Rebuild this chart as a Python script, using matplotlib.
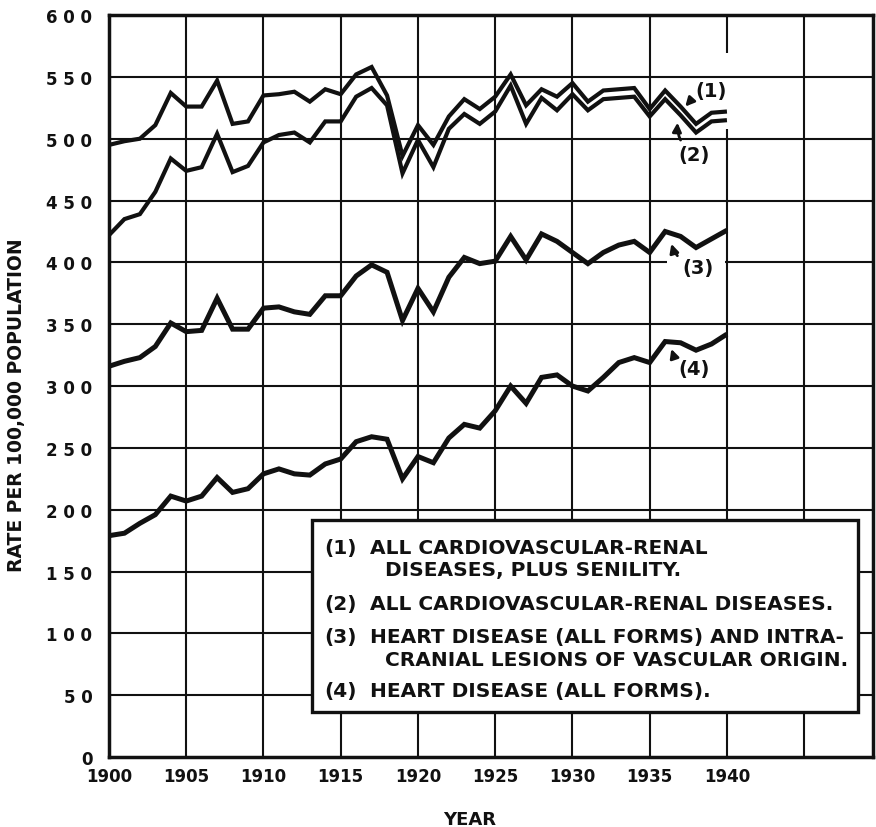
import matplotlib
matplotlib.use("Agg")
import matplotlib.pyplot as plt
from matplotlib.patches import Rectangle

INK = "#111111"

years = list(range(1900, 1941))

# (1) all cardiovascular-renal diseases, plus senility
cvr_senility = [495, 498, 500, 511, 537, 526, 526, 547, 512, 514,
                535, 536, 538, 530, 540, 536, 552, 558, 535, 486,
                511, 495, 518, 532, 524, 534, 552, 527, 540, 534,
                545, 530, 539, 540, 541, 524, 539, 526, 512, 521,
                522]
# (2) all cardiovascular-renal diseases
cvr = [422, 435, 439, 457, 484, 474, 477, 504, 473, 478,
       497, 503, 505, 497, 514, 514, 534, 541, 527, 472,
       499, 477, 508, 520, 512, 522, 543, 512, 533, 523,
       536, 523, 532, 533, 534, 518, 532, 519, 505, 514,
       515]
# (3) heart disease and intracranial lesions of vascular origin
heart_icl = [316, 320, 323, 332, 351, 344, 345, 371, 346, 346,
             363, 364, 360, 358, 373, 373, 389, 398, 392, 353,
             379, 360, 388, 404, 399, 401, 421, 402, 423, 417,
             408, 399, 408, 414, 417, 408, 425, 421, 412, 419,
             426]
# (4) heart disease (all forms)
heart = [179, 181, 189, 196, 211, 207, 211, 226, 214, 217,
         229, 233, 229, 228, 237, 241, 255, 259, 257, 225,
         243, 238, 258, 269, 266, 280, 300, 286, 307, 309,
         300, 296, 307, 319, 323, 319, 336, 335, 329, 334,
         342]

x_ticks = [1900, 1905, 1910, 1915, 1920, 1925, 1930, 1935, 1940]
y_ticks = list(range(0, 601, 50))
y_tick_labels = [" ".join(str(v)) for v in y_ticks]

legend_lines = [
    ("(1)", "ALL CARDIOVASCULAR-RENAL", 0.283),
    ("", "DISEASES, PLUS SENILITY.", 0.253),
    ("(2)", "ALL CARDIOVASCULAR-RENAL DISEASES.", 0.2075),
    ("(3)", "HEART DISEASE (ALL FORMS) AND INTRA-", 0.163),
    ("", "CRANIAL LESIONS OF VASCULAR ORIGIN.", 0.132),
    ("(4)", "HEART DISEASE (ALL FORMS).", 0.089),
]

plt.rcParams["font.family"] = "DejaVu Sans"

fig = plt.figure(figsize=(8.76, 8.28), dpi=100)
fig.patch.set_facecolor("white")
ax = fig.add_axes([0.1244, 0.0845, 0.8721, 0.8961])
ax.set_xlim(1900, 1949.45)
ax.set_ylim(0, 600)

# hand drawn grid, with the two gaps left for the curve labels
grid_kw = dict(color=INK, lw=1.5, zorder=1)
for yr in range(1905, 1950, 5):
    if yr == 1940:
        ax.vlines(yr, 0, 508, **grid_kw)
        ax.vlines(yr, 569, 600, **grid_kw)
    else:
        ax.axvline(yr, **grid_kw)
for v in range(50, 600, 50):
    if v == 400:
        ax.hlines(v, 1900, 1936.1, **grid_kw)
        ax.hlines(v, 1939.9, 1949.45, **grid_kw)
    else:
        ax.axhline(v, **grid_kw)

line_kw = dict(color=INK, solid_joinstyle="miter", solid_capstyle="butt", zorder=3)
ax.plot(years, cvr_senility, lw=3.0, **line_kw)
ax.plot(years, cvr, lw=3.0, **line_kw)
ax.plot(years, heart_icl, lw=3.6, **line_kw)
ax.plot(years, heart, lw=3.6, **line_kw)

arrow = dict(arrowstyle="-|>", color=INK, lw=2.0, mutation_scale=13,
             shrinkA=2, shrinkB=0)
lab_kw = dict(fontsize=14, fontweight="bold", color=INK, ha="center",
              va="center", zorder=5)
ax.annotate("(1)", xy=(1937.3, 526), xytext=(1939.0, 539),
            arrowprops=dict(connectionstyle="arc3,rad=0.15", **arrow), **lab_kw)
ax.annotate("(2)", xy=(1936.8, 513), xytext=(1937.9, 487),
            arrowprops=dict(connectionstyle="arc3,rad=-0.3", **arrow), **lab_kw)
ax.annotate("(3)", xy=(1936.4, 415), xytext=(1938.1, 396),
            arrowprops=dict(connectionstyle="arc3,rad=-0.3", **arrow), **lab_kw)
ax.annotate("(4)", xy=(1936.4, 330), xytext=(1937.9, 314),
            arrowprops=dict(connectionstyle="arc3,rad=-0.3", **arrow), **lab_kw)

# key box
ax.add_patch(Rectangle((0.266, 0.0606), 0.714, 0.2584, transform=ax.transAxes,
                       facecolor="white", edgecolor=INK, lw=2.4, zorder=4))
key_kw = dict(transform=ax.transAxes, fontsize=14.5, fontweight="bold",
              color=INK, va="center", zorder=5)
for num, text, yy in legend_lines:
    if num:
        ax.text(0.282, yy, num, **key_kw)
        ax.text(0.342, yy, text, **key_kw)
    else:
        ax.text(0.361, yy, text, **key_kw)

ax.set_xticks(x_ticks)
ax.set_xticklabels([str(x) for x in x_ticks], fontsize=12, fontweight="bold")
ax.set_yticks(y_ticks)
ax.set_yticklabels(y_tick_labels, fontsize=12, fontweight="bold")
ax.tick_params(axis="x", length=0, pad=7, colors=INK)
ax.tick_params(axis="y", length=0, pad=12, colors=INK)
for spine in ax.spines.values():
    spine.set_linewidth(2.5)
    spine.set_color(INK)
    spine.set_zorder(6)

fig.text(0.0194, 0.511, "RATE PER 100,000 POPULATION", rotation=90,
         fontsize=13.5, fontweight="bold", color=INK, ha="center", va="center")
fig.text(0.5365, 0.01, "YEAR", fontsize=13, fontweight="bold", color=INK,
         ha="center", va="center")

fig.savefig("out.png", dpi=100, facecolor="white")
